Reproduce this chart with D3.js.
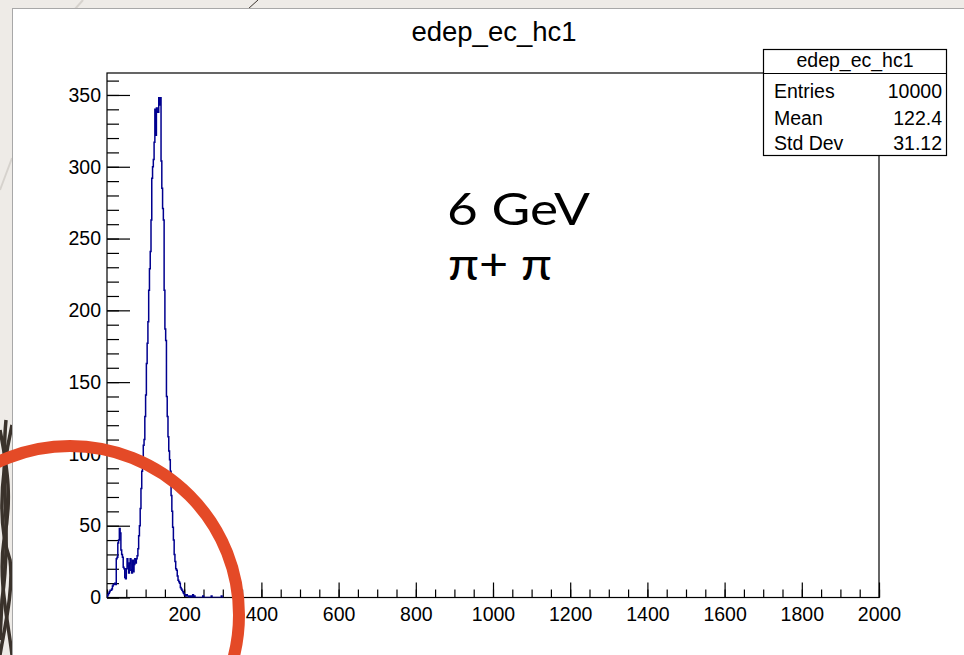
<!DOCTYPE html>
<html><head><meta charset="utf-8">
<script src="https://cdn.jsdelivr.net/npm/d3@7"></script>
<style>html,body{margin:0;padding:0;background:#efece8;overflow:hidden}</style>
</head><body>
<svg id="c" width="964" height="655"></svg>
<script>
// ---- data ----
const histTitle = "edep_ec_hc1";
const binStart = 0, binWidth = 2;           // 1000 bins over 0..2000
const counts = [
  1,2,3,4,5,5,6,8,9,9,
  10,9,27,28,38,40,48,45,33,30,
  28,21,20,14,13,20,27,22,17,24,
  27,19,17,26,18,23,27,24,27,29,
  34,43,50,62,76,88,93,106,110,126,
  141,163,177,192,214,229,241,263,292,300,
  305,317,340,322,341,338,338,348,343,348,
  304,285,271,263,214,187,179,140,126,112,
  102,96,88,71,60,49,40,30,25,20,
  19,15,12,11,10,7,6,5,4,3,
  2,2,1,2,1,1,0,1,0,1,
  0,2,0,1,0,0,0,0,0,0,
  0,0,0,0,1,0,0,0,0,0,
  0,0,0,0,0,1,0,0,0,0,
  0,0,0,0,0,0,0,0,1,0,
  0
];
const xDomain = [0, 2000];
const yDomain = [0, 365.3];
const xMajor = [200,400,600,800,1000,1200,1400,1600,1800,2000];
const yMajor = [0,50,100,150,200,250,300,350];
const statsLabels = ["Entries","Mean","Std Dev"];
const statsValues = ["10000","122.4","31.12"];
const noteLines = ["6 GeV","π+ π"];

// ---- layout ----
const W = 964, H = 655;
const L = 107, R = 879, T = 73, B = 597.5;
const svg = d3.select("#c");
const F = "'Liberation Sans', Arial, Helvetica, sans-serif";

// slide background
svg.append("rect").attr("width", W).attr("height", H).attr("fill", "#eeebe7");
const deco = svg.append("g");
deco.append("line").attr("x1",0).attr("y1",190).attr("x2",12).attr("y2",158).attr("stroke","#d6d2cd").attr("stroke-width",2);
deco.append("line").attr("x1",75).attr("y1",9).attr("x2",83).attr("y2",0).attr("stroke","#d6d2cd").attr("stroke-width",2);
deco.append("line").attr("x1",248).attr("y1",9).attr("x2",258).attr("y2",0).attr("stroke","#3b342e").attr("stroke-width",1);
const dark = deco.append("g").attr("stroke","#3a322b").attr("fill","none").attr("stroke-width",3.5);
[["M12,425 C2,470 -4,520 10,560 C14,590 4,630 0,655"],
 ["M0,430 C8,470 12,500 4,540 C-2,580 8,620 12,655"],
 ["M6,420 C0,480 12,530 2,600 L0,640"]].forEach(p => dark.append("path").attr("d", p[0]));

// white canvas
svg.append("rect").attr("x",12.5).attr("y",8.5).attr("width",W).attr("height",H)
  .attr("fill","#fff").attr("stroke","#a8a8a8").attr("stroke-width",1);

// scales
const x = d3.scaleLinear().domain(xDomain).range([L, R]);
const y = d3.scaleLinear().domain(yDomain).range([B, T]);

// title
svg.append("text").attr("x", 494).attr("y", 41).attr("text-anchor","middle")
  .attr("font-family", F).attr("font-size", 27.5).attr("fill","#000").text(histTitle);

// histogram
const clip = svg.append("clipPath").attr("id","pc");
clip.append("rect").attr("x",L).attr("y",T).attr("width",R-L).attr("height",B-T);
const pts = [[binStart, 0]];
counts.forEach((c, i) => pts.push([binStart + i*binWidth, c]));
pts.push([binStart + counts.length*binWidth, 0]);
const line = d3.line().x(d => x(d[0])).y(d => y(d[1])).curve(d3.curveStepAfter);

// x axis ticks (inward)
const xMinor = d3.range(0, 2001, 50);
const xa = d3.axisBottom(x).tickValues(xMinor).tickSize(-8).tickFormat("");
const gx = svg.append("g").attr("transform",`translate(0,${B})`).call(xa);
gx.select(".domain").remove();
gx.selectAll("line").attr("stroke","#000").attr("stroke-width",1.2);
const xb = d3.axisBottom(x).tickValues(xMajor).tickSize(-15).tickPadding(6).tickFormat(d3.format("d"));
const gx2 = svg.append("g").attr("transform",`translate(0,${B})`).call(xb);
gx2.select(".domain").remove();
gx2.selectAll("line").attr("stroke","#000").attr("stroke-width",1.2);
gx2.selectAll("text").attr("font-family",F).attr("font-size",19.5).attr("fill","#000").attr("dy","0.9em");

// y axis ticks (inward)
const yMinor = d3.range(0, 361, 10);
const ya = d3.axisLeft(y).tickValues(yMinor).tickSize(-12).tickFormat("");
const gy = svg.append("g").attr("transform",`translate(${L},0)`).call(ya);
gy.select(".domain").remove();
gy.selectAll("line").attr("stroke","#000").attr("stroke-width",1.2);
const yb = d3.axisLeft(y).tickValues(yMajor).tickSize(-23).tickPadding(6).tickFormat(d3.format("d"));
const gy2 = svg.append("g").attr("transform",`translate(${L},0)`).call(yb);
gy2.select(".domain").remove();
gy2.selectAll("line").attr("stroke","#000").attr("stroke-width",1.2);
gy2.selectAll("text").attr("font-family",F).attr("font-size",19.5).attr("fill","#000");

// frame
svg.append("rect").attr("x",L).attr("y",T).attr("width",R-L).attr("height",B-T)
  .attr("fill","none").attr("stroke","#000").attr("stroke-width",1.2);

svg.append("path").datum(pts).attr("clip-path","url(#pc)").attr("d", line)
  .attr("fill","none").attr("stroke","#00008f").attr("stroke-width",1.5);

// stats box
const sb = {x0: 763.5, y0: 49.5, x1: 946.5, y1: 155.5, sep: 73.5};
const sg = svg.append("g").attr("font-family", F).attr("font-size", 19.5).attr("fill","#000");
sg.append("rect").attr("x",sb.x0).attr("y",sb.y0).attr("width",sb.x1-sb.x0).attr("height",sb.y1-sb.y0)
  .attr("fill","#fff").attr("stroke","#000").attr("stroke-width",1.2);
sg.append("line").attr("x1",sb.x0).attr("x2",sb.x1).attr("y1",sb.sep).attr("y2",sb.sep).attr("stroke","#000").attr("stroke-width",1.2);
sg.append("text").attr("x",(sb.x0+sb.x1)/2).attr("y",67).attr("text-anchor","middle").text(histTitle);
const rowY = [97.5, 125, 150];
statsLabels.forEach((t,i) => {
  sg.append("text").attr("x",774).attr("y",rowY[i]).text(t);
  sg.append("text").attr("x",942).attr("y",rowY[i]).attr("text-anchor","end").text(statsValues[i]);
});

// annotation text
const AF = "'Century Gothic', 'URW Gothic', Lato, 'Noto Sans', sans-serif";
svg.append("text").attr("x",447).attr("y",225).attr("font-family",AF).attr("font-size",45)
  .attr("fill","#000").attr("textLength",143).attr("lengthAdjust","spacingAndGlyphs").text(noteLines[0]);
svg.append("text").attr("x",448).attr("y",280).attr("font-family",AF).attr("font-size",45)
  .attr("fill","#000").attr("textLength",104).attr("lengthAdjust","spacingAndGlyphs").text(noteLines[1]);

// red circle annotation
svg.append("circle").attr("cx",70).attr("cy",615).attr("r",169)
  .attr("fill","none").attr("stroke","#e44a27").attr("stroke-width",12);
</script>
</body></html>
